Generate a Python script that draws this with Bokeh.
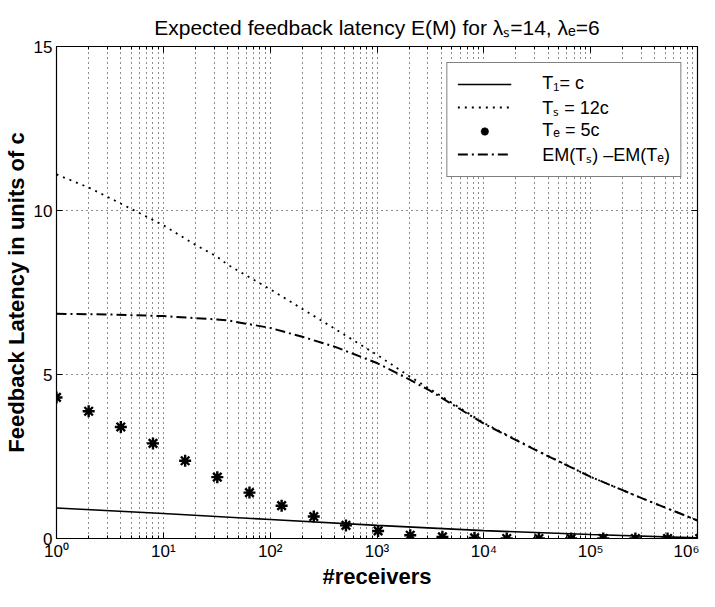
from bokeh.plotting import figure
from bokeh.models import (LogAxis, LinearAxis, FixedTicker, Legend, LegendItem, Range1d)
from bokeh.embed import file_html
from bokeh.resources import INLINE

# ---------------- data ----------------
title_text = "Expected feedback latency E(M) for λₛ=14, λₑ=6"
x_label = "#receivers"
y_label = "Feedback Latency in units of c"

x_ticks = [1, 10, 100, 1000, 10000, 100000, 1000000]
x_tick_labels = ["10⁰", "10¹", "10²", "10³", "10⁴", "10⁵", "10⁶"]
y_ticks = [0, 5, 10, 15]

# T1 = c (solid)
t1_x = [1, 10, 100, 1000, 10000, 100000, 1000000]
t1_y = [0.93, 0.76, 0.58, 0.40, 0.24, 0.12, 0.02]

# Ts = 12c (dotted) and EM(Ts) - EM(Te) (dash-dot)
curve_x = [1, 2, 3.16, 5, 10, 20, 31.6, 40, 100, 200, 400, 1000, 2000,
           3160, 10000, 31600, 100000, 316000, 1000000]
ts_y = [11.1, 10.7, 10.38, 10.05, 9.55, 8.95, 8.6, 8.35, 7.6, 7.0, 6.4, 5.6,
        4.95, 4.55, 3.52, 2.68, 1.88, 1.2, 0.55]
diff_y = [6.85, 6.84, 6.83, 6.81, 6.78, 6.72, 6.68, 6.65, 6.42, 6.15, 5.85,
          5.35, 4.85, 4.5, 3.5, 2.67, 1.88, 1.2, 0.55]

# Te = 5c (stars)
te_x = [1, 2, 4, 8, 16, 32, 64, 128, 256, 512, 1024, 2048, 4096, 8192, 16384,
        32768, 65536, 131072, 262144, 524288, 1048576]
te_y = [4.3, 3.88, 3.4, 2.9, 2.37, 1.87, 1.4, 1.0, 0.67, 0.4, 0.23, 0.1, 0.05,
        0.02, 0.0, 0.0, 0.0, 0.0, 0.0, 0.0, 0.0]

legend_labels = ["T₁= c", "Tₛ = 12c", "Tₑ = 5c", "EM(Tₛ) –EM(Tₑ)"]

# ---------------- figure ----------------
FONT = "Liberation Sans"
minor = [m * d for d in [1, 10, 100, 1000, 10000, 100000] for m in range(2, 10)]

p = figure(width=699, height=591, x_axis_type="log",
           x_range=Range1d(1, 1000000), y_range=Range1d(0, 15),
           output_backend="svg", toolbar_location=None,
           min_border_left=51, min_border_right=2, min_border_top=46,
           min_border_bottom=48)
p.background_fill_color = "white"
p.border_fill_color = "white"
p.outline_line_color = "black"
p.outline_line_width = 1.2

p.title.text = title_text
p.title.align = "center"
p.title.text_font = FONT
p.title.text_font_size = "21px"
p.title.text_font_style = "normal"
p.title.text_color = "black"
p.title.standoff = 16

xt = FixedTicker(ticks=x_ticks, minor_ticks=minor)
yt = FixedTicker(ticks=y_ticks, minor_ticks=[])

xa = p.xaxis[0]
xa.ticker = xt
xa.major_label_overrides = {t: l for t, l in zip(x_ticks, x_tick_labels)}
ya = p.yaxis[0]
ya.ticker = yt

for ax in (xa, ya):
    ax.axis_line_color = "black"
    ax.major_tick_line_color = "black"
    ax.minor_tick_line_color = "black"
    ax.major_tick_in = 6
    ax.major_tick_out = 0
    ax.minor_tick_in = 3
    ax.minor_tick_out = 0
    ax.major_label_text_font = FONT
    ax.major_label_text_font_size = "17px"
    ax.major_label_text_color = "black"
    ax.axis_label_text_font = FONT
    ax.axis_label_text_font_size = "22px"
    ax.axis_label_text_font_style = "bold"
    ax.axis_label_text_color = "black"

xa.axis_label = x_label
ya.axis_label = y_label
xa.major_label_standoff = 3
xa.axis_label_standoff = 0
ya.major_label_standoff = 4
ya.axis_label_standoff = 2

top = LogAxis(ticker=FixedTicker(ticks=x_ticks, minor_ticks=minor),
              major_label_text_font_size="1px", major_label_text_alpha=0,
              major_label_standoff=0,
              major_tick_in=6, major_tick_out=0, minor_tick_in=3, minor_tick_out=0,
              axis_line_color="black")
right = LinearAxis(ticker=FixedTicker(ticks=y_ticks, minor_ticks=[]),
                   major_label_text_font_size="1px", major_label_text_alpha=0,
                   major_label_standoff=0,
                   major_tick_in=6, major_tick_out=0, axis_line_color="black")
p.add_layout(top, "above")
p.add_layout(right, "right")

for g in (p.xgrid[0], p.ygrid[0]):
    g.grid_line_color = "black"
    g.grid_line_dash = "1 4"
    g.grid_line_width = 1
    g.grid_line_alpha = 0.9
p.xgrid[0].ticker = xt
p.xgrid[0].minor_grid_line_color = "black"
p.xgrid[0].minor_grid_line_dash = "1 4"
p.xgrid[0].minor_grid_line_alpha = 0.9
p.ygrid[0].ticker = yt

r1 = p.line(t1_x, t1_y, line_color="black", line_width=1.6)
r2 = p.line(curve_x, ts_y, line_color="black", line_width=1.8, line_dash="2 5")
r3 = p.scatter(te_x, te_y, marker="asterisk", size=12, line_color="black",
               line_width=2.4)
r4 = p.line(curve_x, diff_y, line_color="black", line_width=2,
            line_dash="10 4 2 4")

legend = Legend(items=[LegendItem(label=l, renderers=[r]) for l, r in
                       zip(legend_labels, [r1, r2, r3, r4])],
                location="top_right", margin=16, padding=10, spacing=1,
                glyph_width=54, glyph_height=20, label_height=19,
                label_standoff=31,
                border_line_color="black", border_line_width=1.5,
                background_fill_color="white", background_fill_alpha=1,
                label_text_font=FONT, label_text_font_size="18px",
                label_text_color="black")
p.add_layout(legend)

open("out.html", "w").write(file_html(p, INLINE))
